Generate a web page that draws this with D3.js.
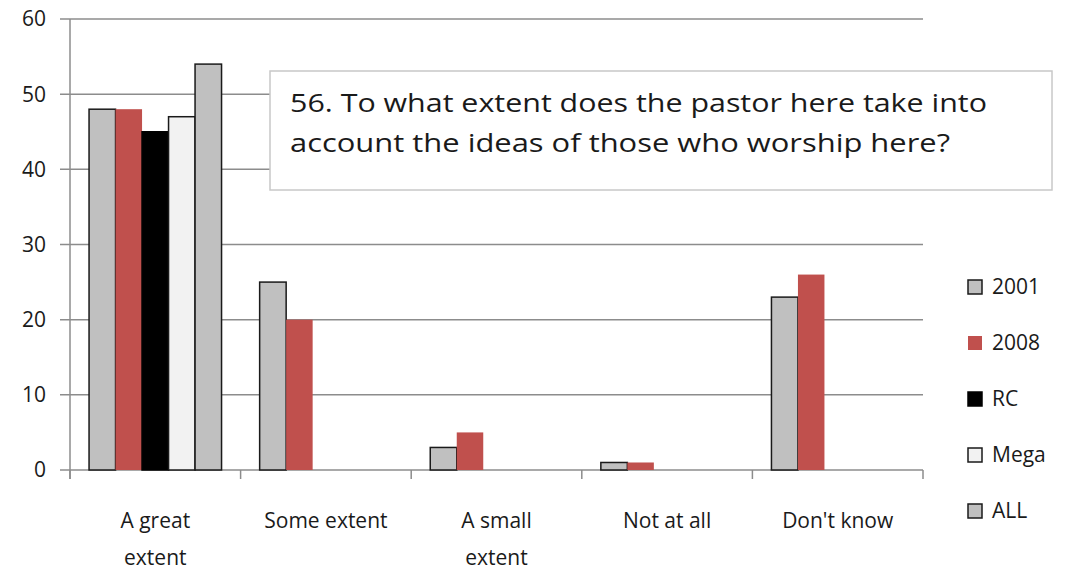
<!DOCTYPE html>
<html>
<head>
<meta charset="utf-8">
<script src="https://cdn.jsdelivr.net/npm/d3@7"></script>
<style>
  body { margin: 0; background: #fff; }
  text { font-family: "Open Sans", "Liberation Sans", sans-serif; fill: #1a1a1a; }
</style>
</head>
<body>
<div id="chart"></div>
<script>
// Data
const categories = ["A great extent", "Some extent", "A small extent", "Not at all", "Don't know"];
const categoryLines = [["A great", "extent"], ["Some extent"], ["A small", "extent"], ["Not at all"], ["Don't know"]];
const seriesNames = ["2001", "2008", "RC", "Mega", "ALL"];
const values2001 = [48, 25, 3, 1, 23];
const values2008 = [48, 20, 5, 1, 26];
const valuesRC = [45, null, null, null, null];
const valuesMega = [47, null, null, null, null];
const valuesALL = [54, null, null, null, null];
const yTicks = [0, 10, 20, 30, 40, 50, 60];
const titleLines = ["56. To what extent does the pastor here take into", "account the ideas of those who worship here?"];

const seriesValues = [values2001, values2008, valuesRC, valuesMega, valuesALL];
const fills = ["#c0c0c0", "#c0504d", "#000000", "#f2f2f2", "#c0c0c0"];
const strokes = ["#1a1a1a", "none", "#000000", "#1a1a1a", "#1a1a1a"];

// Dimensions and margins
const width = 1071, height = 570;
const margin = { top: 19, right: 148, bottom: 100, left: 70 };
const plotW = width - margin.left - margin.right;
const plotH = height - margin.top - margin.bottom;

const svg = d3.select("#chart").append("svg")
    .attr("width", width)
    .attr("height", height);

const g = svg.append("g")
    .attr("transform", `translate(${margin.left},${margin.top})`);

// Scales
const x0 = d3.scaleBand().domain(categories).range([0, plotW]);
const gap = x0.bandwidth() - 5 * 26.5;
const x1 = d3.scaleBand().domain(seriesNames).range([gap / 2, x0.bandwidth() - gap / 2]);
const y = d3.scaleLinear().domain([0, 60]).range([plotH, 0]);

// Gridlines
g.selectAll(".grid")
    .data(yTicks)
    .enter().append("line")
    .attr("x1", -10).attr("x2", plotW)
    .attr("y1", d => y(d)).attr("y2", d => y(d))
    .attr("stroke", "#8c8c8c").attr("stroke-width", 1.5);

// Y axis line
g.append("line")
    .attr("x1", 0).attr("x2", 0).attr("y1", 0).attr("y2", plotH + 9)
    .attr("stroke", "#8c8c8c").attr("stroke-width", 1.5);

// Y tick labels
g.selectAll(".ylab")
    .data(yTicks)
    .enter().append("text")
    .attr("x", -24)
    .attr("y", d => y(d))
    .attr("dy", "0.35em")
    .attr("text-anchor", "end")
    .style("font-size", "21px")
    .text(d => d);

// X ticks
const xTickPos = categories.map(c => x0(c)).concat([plotW]);
g.selectAll(".xtick")
    .data(xTickPos)
    .enter().append("line")
    .attr("x1", d => d).attr("x2", d => d)
    .attr("y1", plotH).attr("y2", plotH + 9)
    .attr("stroke", "#8c8c8c").attr("stroke-width", 1.5);

// Bars
seriesNames.forEach((s, i) => {
    const data = categories.map((c, j) => ({ cat: c, value: seriesValues[i][j] }))
        .filter(d => d.value != null);
    g.selectAll(".bar-" + i)
        .data(data)
        .enter().append("rect")
        .attr("x", d => x0(d.cat) + x1(s))
        .attr("y", d => y(d.value))
        .attr("width", x1.bandwidth())
        .attr("height", d => plotH - y(d.value))
        .attr("fill", fills[i])
        .attr("stroke", strokes[i])
        .attr("stroke-width", 1.5);
});

// X labels
categories.forEach((c, j) => {
    const t = g.append("text")
        .attr("x", x0(c) + x0.bandwidth() / 2)
        .attr("y", plotH + 58)
        .attr("text-anchor", "middle")
        .style("font-size", "21px");
    categoryLines[j].forEach((line, k) => {
        t.append("tspan")
            .attr("x", x0(c) + x0.bandwidth() / 2)
            .attr("dy", k === 0 ? 0 : 37)
            .text(line);
    });
});

// Title box
svg.append("rect")
    .attr("x", 270).attr("y", 71)
    .attr("width", 782).attr("height", 119)
    .attr("fill", "#fff")
    .attr("stroke", "#c8c8c8").attr("stroke-width", 1.5);

titleLines.forEach((line, k) => {
    svg.append("text")
        .attr("x", 290)
        .attr("y", 112 + k * 40)
        .style("font-size", "25px")
        .attr("textLength", k === 0 ? 697 : 660)
        .attr("lengthAdjust", "spacingAndGlyphs")
        .text(line);
});

// Legend
const legend = svg.append("g").attr("transform", "translate(968, 287)");
seriesNames.forEach((s, i) => {
    legend.append("rect")
        .attr("x", 0).attr("y", i * 56 - 7)
        .attr("width", 14).attr("height", 14)
        .attr("fill", fills[i])
        .attr("stroke", strokes[i])
        .attr("stroke-width", 1.5);
    legend.append("text")
        .attr("x", 24).attr("y", i * 56)
        .attr("dy", "0.35em")
        .style("font-size", "21px")
        .text(s);
});
</script>
</body>
</html>
